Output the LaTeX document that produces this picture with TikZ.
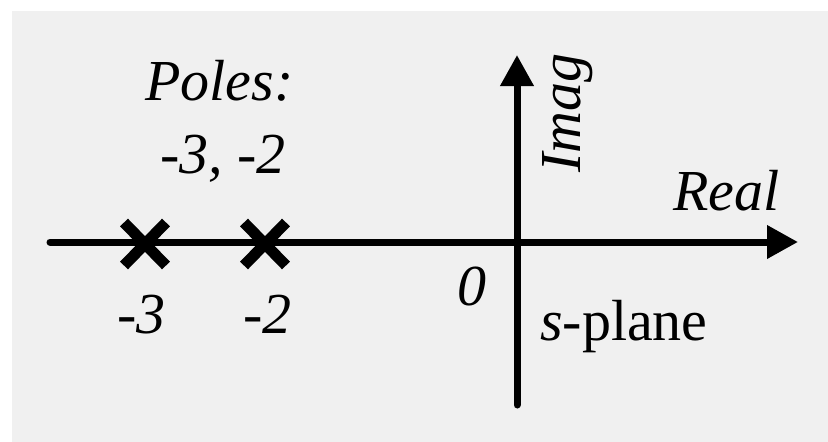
\documentclass[tikz,border=0pt]{standalone}
\usepackage{fontspec}
\setmainfont{LiberationSerif}[Extension=.ttf, UprightFont=*-Regular, ItalicFont=*-Italic, BoldFont=*-Bold]
\usepackage{xcolor}
\usetikzlibrary{positioning,arrows.meta,shapes.misc}
\definecolor{planebg}{HTML}{F0F0F0}

\begin{document}
\begin{tikzpicture}[x=1pt, y=-1pt, font=\fontsize{58}{62}\selectfont\itshape,
  lbl/.style={anchor=base west, inner sep=0pt},
  axis/.style={line width=7pt, line cap=round, -{Triangle[length=31pt, width=32pt]}},
  pole/.style={cross out, draw, line width=11pt, minimum width=31pt, minimum height=32pt, inner sep=0pt}]
\useasboundingbox (0,0) rectangle (828,442);
\fill[planebg] (12,11) rectangle (828,442);
% axes
\coordinate (xl) at (50,242);
\coordinate (xr) at (798,242);
\coordinate (yb) at (517,405);
\coordinate (yt) at (517,55);
\draw[axis] (xl) -- (xr);
\draw[axis] (yb) -- (yt);
\node[lbl] (real) at (673,210) {Real};
\node[lbl, rotate=90] (imag) at (580,173) {Imag};
\node[lbl] (zero) at (457,305) {0};
\node[lbl] (plane) at (540,340) {s\upshape-plane};
% poles
\node[pole] (p3) at (145,244) {};
\node[pole] (p2) at (265,244) {};
\node[lbl] (p3lab) at (117,333) {-3};
\node[lbl] (p2lab) at (243,333) {-2};
\node[lbl] (title) at (145,100) {Poles:};
\node[lbl] (list) at (160,173) {-3, -2};
\end{tikzpicture}
\end{document}
